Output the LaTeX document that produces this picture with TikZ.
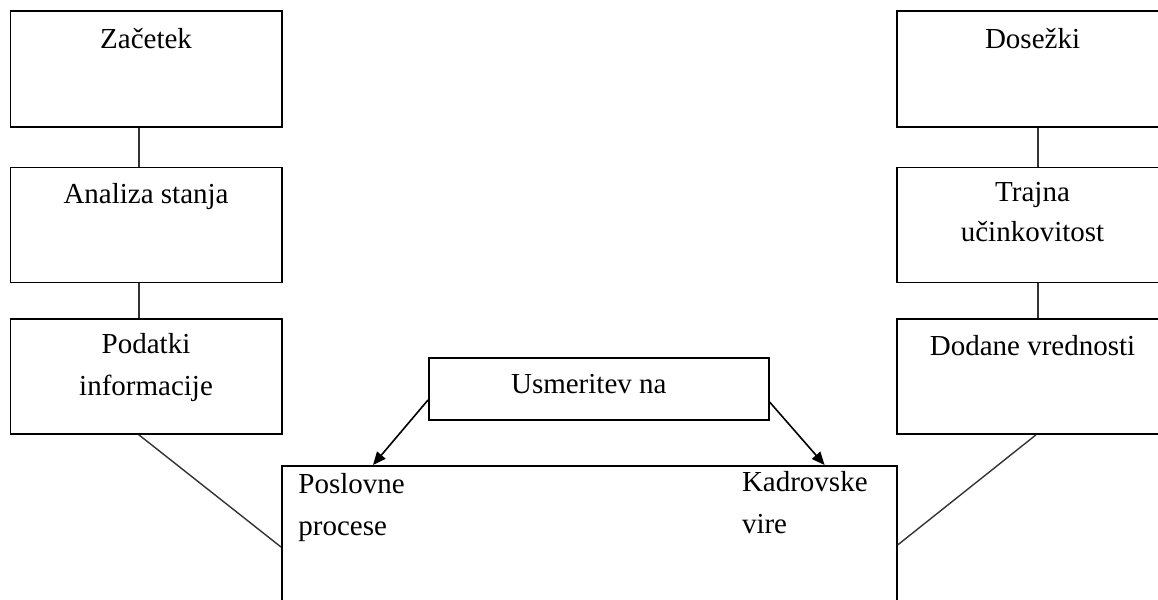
\documentclass[tikz,border=0pt]{standalone}
\usepackage{fontspec}
\setmainfont{Liberation Serif}
\usetikzlibrary{arrows.meta,positioning}
\tikzset{
  stage/.style={draw,line width=0.8pt,minimum width=135.75pt,minimum height=57.5pt,inner sep=0pt},
  caption/.style={anchor=base,inner sep=0pt,align=center,font=\fontsize{14.5}{21}\selectfont},
  link/.style={draw=black!80,line width=0.7pt},
  pointer/.style={-{Triangle[length=6.5pt,width=5.5pt]},line width=0.8pt}
}

\begin{document}
\begin{tikzpicture}[x=0.5pt,y=-0.5pt]
  \useasboundingbox (0,0) rectangle (1158,600);
  \clip (0,0) rectangle (1158,600);
  % left column
  \node[stage,anchor=north west,minimum height=58pt] (start) at (9.5,10) {};
  \node[stage,below=19.5pt of start] (analysis) {};
  \node[stage,below=17.5pt of analysis] (data) {};
  \node[caption] (startTxt) at ([yshift=-19pt]start.north) {Začetek};
  \node[caption] (analysisTxt) at ([yshift=-18.5pt]analysis.north) {Analiza stanja};
  \node[caption] (dataTxt) at ([yshift=-38.5pt]data.north) {Podatki\\informacije};
  % right column
  \node[stage,anchor=north west,minimum height=58pt] (result) at (896,10) {};
  \node[stage,below=19.5pt of result] (lasting) {};
  \node[stage,below=17.5pt of lasting] (added) {};
  \node[caption] (resultTxt) at ([yshift=-19pt]result.north) {Dosežki};
  \node[caption,font=\fontsize{14.5}{20}\selectfont] (lastingTxt) at ([yshift=-37.5pt]lasting.north) {Trajna\\učinkovitost};
  \node[caption] (addedTxt) at ([yshift=-18.5pt]added.north) {Dodane vrednosti};
  % middle
  \node[draw,line width=0.8pt,minimum width=170pt,minimum height=31pt,anchor=north west] (focus) at (428,357) {};
  \node[caption] (focusTxt) at ([xshift=-5pt,yshift=-18pt]focus.north) {Usmeritev na};
  \node[draw,line width=0.8pt,minimum width=307.5pt,minimum height=90pt,anchor=north west] (target) at (281,465) {};
  \node[caption,align=left,anchor=base west] (procTxt) at ([xshift=8.5pt,yshift=-35pt]target.north west) {Poslovne\\procese};
  \node[caption,align=left,anchor=base west] (staffTxt) at ([xshift=-78pt,yshift=-34pt]target.north east) {Kadrovske\\vire};
  % connectors
  \draw[link] ([xshift=-3.6pt]start.south) -- ([xshift=-3.6pt]analysis.north);
  \draw[link] ([xshift=-3.6pt]analysis.south) -- ([xshift=-3.6pt]data.north);
  \draw[link] ([xshift=-3.6pt]data.south) -- ([yshift=-41pt]target.north west);
  \draw[link] ([xshift=2.75pt]result.south) -- ([xshift=2.75pt]lasting.north);
  \draw[link] ([xshift=2.75pt]lasting.south) -- ([xshift=2.75pt]added.north);
  \draw[link] ([xshift=1.75pt]added.south) -- ([yshift=-40pt]target.north east);
  \draw[pointer] ([yshift=-21.5pt]focus.north west) -- ([xshift=46pt]target.north west);
  \draw[pointer] ([yshift=-22.5pt]focus.north east) -- ([xshift=-36.5pt]target.north east);
\end{tikzpicture}
\end{document}
